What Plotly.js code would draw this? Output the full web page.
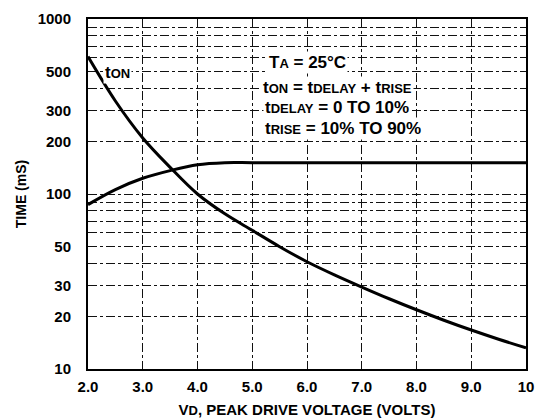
<!DOCTYPE html>
<html>
<head>
<meta charset="utf-8">
<script src="https://cdn.plot.ly/plotly-3.0.1.min.js"></script>
<style>html,body{margin:0;padding:0;background:#fff;}#chart{width:536px;height:419px;}</style>
</head>
<body>
<div id="chart"></div>
<script>
// Data
const vd = [2.0, 2.5, 3.0, 3.5, 4.0, 4.5, 5.0, 5.5, 6.0, 6.5, 7.0, 7.5, 8.0, 8.5, 9.0, 9.5, 10.0];
const tOn = [610, 340, 209, 142, 100, 77, 62, 50, 41, 34.5, 29.4, 25.2, 21.8, 19.0, 16.7, 14.8, 13.2];
const vdRise = [2.0, 2.5, 3.0, 3.5, 4.0, 4.5, 5.0, 6.0, 7.0, 8.0, 9.0, 10.0];
const tRise = [87, 106, 123, 136, 147, 151, 151, 151, 151, 151, 151, 151];
const xTickVals = [2, 3, 4, 5, 6, 7, 8, 9, 10];
const xTickText = ['2.0', '3.0', '4.0', '5.0', '6.0', '7.0', '8.0', '9.0', '10'];
const yTickVals = [10, 20, 30, 50, 100, 200, 300, 500, 1000];
const yTickText = ['10', '20', '30', '50', '100', '200', '300', '500', '1000'];
const yMinorVals = [40, 60, 70, 80, 90, 400, 600, 700, 800, 900];

const fnt = {family: 'Liberation Sans, Arial, sans-serif', size: 14, color: '#000', weight: 'bold'};
const annFnt = {family: 'Liberation Sans, Arial, sans-serif', size: 17, color: '#000', weight: 'bold'};
const s = (t) => '<span style="font-size:13px">' + t + '</span>';

const traces = [
  {x: vd, y: tOn, mode: 'lines', line: {color: '#000', width: 3, shape: 'spline'}, hoverinfo: 'skip'},
  {x: vdRise, y: tRise, mode: 'lines', line: {color: '#000', width: 3, shape: 'spline'}, hoverinfo: 'skip'}
];

const ann = (x, y, text) => ({x: x, y: y, xref: 'x', yref: 'y', text: text, showarrow: false,
  xanchor: 'left', yanchor: 'middle', font: annFnt, bgcolor: '#fff', borderpad: 1});

const layout = {
  width: 536, height: 419,
  margin: {l: 88, r: 10, t: 19, b: 50},
  paper_bgcolor: '#fff', plot_bgcolor: '#fff',
  showlegend: false,
  font: fnt,
  xaxis: {
    range: [2, 10], tickvals: xTickVals, ticktext: xTickText,
    showgrid: true, gridcolor: '#111', gridwidth: 1, griddash: 'dashdot',
    showline: true, linecolor: '#000', linewidth: 2, mirror: true,
    ticks: '', zeroline: false, tickfont: {...fnt, size: 15}, ticklabelstandoff: 3,
    title: {text: 'V' + s('D') + ', PEAK DRIVE VOLTAGE (VOLTS)', font: {...fnt, size: 15}, standoff: 10}
  },
  yaxis: {
    type: 'log', range: [1, 3], tickvals: yTickVals, ticktext: yTickText,
    showgrid: true, gridcolor: '#111', gridwidth: 1, griddash: 'dashdot',
    minor: {tickvals: yMinorVals, showgrid: true, gridcolor: '#111', gridwidth: 1, griddash: 'dashdot', ticks: ''},
    showline: true, linecolor: '#000', linewidth: 2, mirror: true,
    ticks: '', zeroline: false, tickfont: {...fnt, size: 15}, ticklabelstandoff: 12,
    title: {text: 'TIME (mS)', font: fnt, standoff: 8}
  },
  annotations: [
    ann(2.27, 2.697, 't' + s('ON')),
    ann(5.27, 2.754, 'T' + s('A') + ' = 25°C'),
    ann(5.16, 2.606, 't' + s('ON') + ' = t' + s('DELAY') + ' + t' + s('RISE')),
    ann(5.2, 2.497, 't' + s('DELAY') + ' = 0 TO 10%'),
    ann(5.2, 2.377, 't' + s('RISE') + ' = 10% TO 90%')
  ]
};

Plotly.newPlot('chart', traces, layout, {staticPlot: true, displayModeBar: false});
</script>
</body>
</html>
